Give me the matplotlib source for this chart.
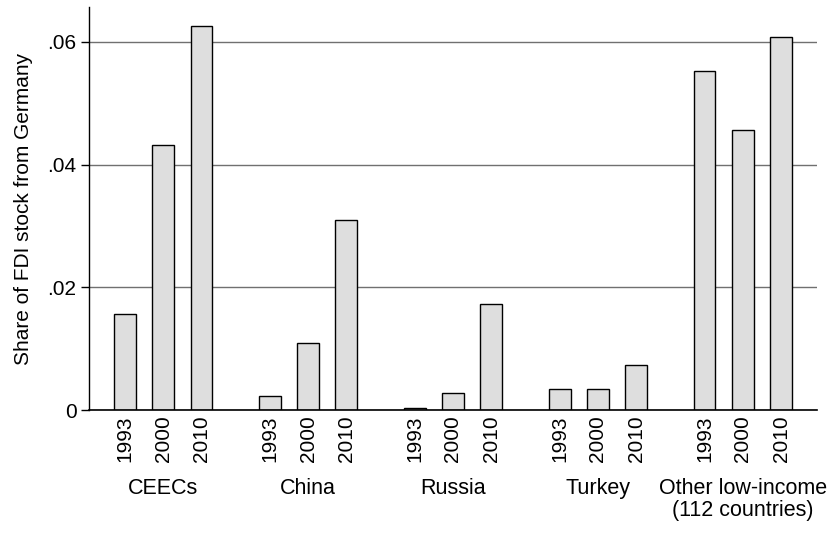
import matplotlib
matplotlib.use("Agg")
import matplotlib.pyplot as plt
from matplotlib.transforms import blended_transform_factory

plt.rcParams['font.family'] = ['Liberation Sans', 'DejaVu Sans']

groups = ["CEECs", "China", "Russia", "Turkey", "Other low-income\n(112 countries)"]
years = ["1993", "2000", "2010"]
values = {
    "CEECs": [0.0157, 0.0432, 0.0626],
    "China": [0.0023, 0.0110, 0.0309],
    "Russia": [0.0004, 0.0028, 0.0172],
    "Turkey": [0.0034, 0.0034, 0.0073],
    "Other low-income\n(112 countries)": [0.0553, 0.0456, 0.0608],
}
yticks = [0, 0.02, 0.04, 0.06]
ytick_labels = ["0", ".02", ".04", ".06"]

fig = plt.figure(figsize=(8.27, 5.33), dpi=100)
ax = fig.add_axes([89/827, 1-410/533, (817-89)/827, 403/533])

group_pitch = 3.786
bar_w = 0.574
xt, xl = [], []
for gi, g in enumerate(groups):
    for yi, yr in enumerate(years):
        x = gi * group_pitch + yi
        ax.bar(x, values[g][yi], width=bar_w, color="#dedede", edgecolor="black",
               linewidth=1.0, zorder=3)
        xt.append(x)
        xl.append(yr)

ax.set_xlim(-0.94, 4 * group_pitch + 2 + 0.94)
ax.set_ylim(0, 0.0657)
ax.set_yticks(yticks)
ax.set_yticklabels(ytick_labels, fontsize=15)
ax.set_xticks(xt)
ax.set_xticklabels(xl, rotation=90, fontsize=15)
ax.tick_params(axis='x', length=0, pad=4)
ax.tick_params(axis='y', length=6, width=1, pad=3)
ax.yaxis.grid(True, color="#707070", linewidth=1.0, zorder=0)
ax.set_axisbelow(True)
for s in ["top", "right"]:
    ax.spines[s].set_visible(False)
ax.spines["left"].set_linewidth(1.0)
ax.spines["bottom"].set_linewidth(1.2)
ax.spines["bottom"].set_zorder(4)

ax.set_ylabel("Share of FDI stock from Germany", fontsize=15, labelpad=10)

trans = blended_transform_factory(ax.transData, fig.transFigure)
for gi, g in enumerate(groups):
    ax.text(gi * group_pitch + 1, 1 - 478/533, g, transform=trans, ha="center", va="top",
            fontsize=15.5, linespacing=1.08)

fig.savefig("out.png", dpi=100)
